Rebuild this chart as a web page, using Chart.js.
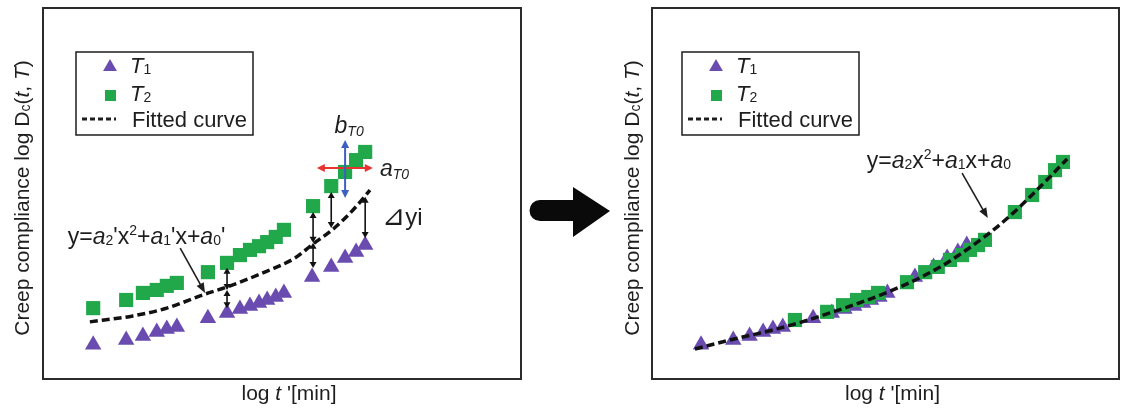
<!DOCTYPE html>
<html>
<head>
<meta charset="utf-8">
<script src="https://cdn.jsdelivr.net/npm/chart.js@4.4.1/dist/chart.umd.min.js"></script>
<style>
  html, body { margin: 0; padding: 0; background: #fff; }
  #wrap { position: relative; width: 1122px; height: 409px; }
  #left { position: absolute; left: 0; top: 0; }
  #right { position: absolute; left: 620px; top: 0; }
</style>
</head>
<body>
<div id="wrap">
  <canvas id="left" width="620" height="409"></canvas>
  <canvas id="right" width="502" height="409"></canvas>
</div>
<script>
// T1 measurements (reference temperature, same in both plots)
const t1X = [1.05, 1.74, 2.09, 2.38, 2.59, 2.80, 3.45, 3.85, 4.12, 4.33, 4.52, 4.69, 4.87, 5.04, 5.63, 6.03, 6.32, 6.55, 6.74];
const t1Y = [0.92, 1.05, 1.16, 1.27, 1.35, 1.40, 1.64, 1.78, 1.89, 1.97, 2.05, 2.13, 2.21, 2.32, 2.75, 3.02, 3.26, 3.42, 3.61];

// T2 measurements before shifting
const t2X = [1.05, 1.74, 2.09, 2.38, 2.59, 2.80, 3.45, 3.85, 4.12, 4.33, 4.52, 4.69, 4.87, 5.04, 5.65, 6.03, 6.32, 6.55, 6.74];
const t2Y = [1.91, 2.13, 2.32, 2.40, 2.51, 2.59, 2.88, 3.13, 3.34, 3.48, 3.58, 3.69, 3.83, 4.02, 4.66, 5.20, 5.58, 5.90, 6.12];

// T2 after shifting by aT0 / bT0
const t2ShiftX = [3.06, 3.75, 4.09, 4.39, 4.63, 4.84, 5.46, 5.85, 6.12, 6.38, 6.64, 6.81, 6.98, 7.13, 7.77, 8.14, 8.42, 8.63, 8.80];
const t2ShiftY = [1.59, 1.81, 1.99, 2.13, 2.21, 2.32, 2.61, 2.88, 3.02, 3.21, 3.34, 3.48, 3.61, 3.75, 4.50, 4.96, 5.31, 5.63, 5.85];

// fitted curve to T1 only
const fitLeftX = [0.98, 1.88, 2.59, 3.39, 3.85, 4.69, 5.27, 5.65, 6.07, 6.49, 6.84];
const fitLeftY = [1.54, 1.70, 1.91, 2.29, 2.48, 2.91, 3.26, 3.64, 4.04, 4.56, 5.09];

// fitted master curve after shifting
const fitRightX = [0.92, 1.67, 2.74, 3.81, 5.16, 6.17, 7.17, 7.73, 8.31, 8.89];
const fitRightY = [0.81, 1.05, 1.37, 1.78, 2.40, 3.02, 3.88, 4.47, 5.18, 5.93];

// residual arrows: x, top y, bottom y
const gapX = [3.85, 3.85, 5.65, 5.65, 6.03, 6.74];
const gapTop = [3.00, 2.40, 4.50, 3.67, 5.04, 4.91];
const gapBottom = [2.40, 1.91, 3.67, 2.99, 4.07, 3.80];

// shift factor arrows
const aT0Arrow = [5.73, 6.90, 5.69];   // x from, x to, y
const bT0Arrow = [6.32, 4.88, 6.44];   // x, y from, y to

const PURPLE = '#6a4cb0';
const GREEN = '#21a84b';
const INK = '#1e1e1e';
const FONT = '"Liberation Sans", Arial, "DejaVu Sans", sans-serif';

function pts(xs, ys) {
    return xs.map((x, i) => ({ x: x, y: ys[i] }));
}

function font(size, italic) {
    return (italic ? 'italic ' : '') + size + 'px ' + FONT;
}

// draws a line of mixed text runs (italic / subscript parts)
function drawRuns(ctx, runs, x, y, align) {
    let w = 0;
    runs.forEach(r => { ctx.font = font(r.s, r.it); w += ctx.measureText(r.t).width; });
    let cx = align === 'center' ? x - w / 2 : x;
    ctx.textAlign = 'left';
    ctx.textBaseline = 'alphabetic';
    runs.forEach(r => {
        ctx.font = font(r.s, r.it);
        ctx.fillText(r.t, cx, y + (r.dy || 0));
        cx += ctx.measureText(r.t).width;
    });
}

function head(ctx, x, y, ang, len, wid) {
    const c = Math.cos(ang), s = Math.sin(ang);
    ctx.beginPath();
    ctx.moveTo(x, y);
    ctx.lineTo(x - len * c + wid * s, y - len * s - wid * c);
    ctx.lineTo(x - len * c - wid * s, y - len * s + wid * c);
    ctx.closePath();
    ctx.fill();
}

function arrow(ctx, x1, y1, x2, y2, color, lw, both, len, wid) {
    const ang = Math.atan2(y2 - y1, x2 - x1);
    ctx.save();
    ctx.strokeStyle = color;
    ctx.fillStyle = color;
    ctx.lineWidth = lw;
    ctx.beginPath();
    ctx.moveTo(x1 + Math.cos(ang) * (both ? len * 0.8 : 0), y1 + Math.sin(ang) * (both ? len * 0.8 : 0));
    ctx.lineTo(x2 - Math.cos(ang) * len * 0.8, y2 - Math.sin(ang) * len * 0.8);
    ctx.stroke();
    head(ctx, x2, y2, ang, len, wid);
    if (both) head(ctx, x1, y1, ang + Math.PI, len, wid);
    ctx.restore();
}

function triangle(ctx, x, y, r) {
    ctx.beginPath();
    ctx.moveTo(x, y - r);
    ctx.lineTo(x + r * 0.866, y + r * 0.5);
    ctx.lineTo(x - r * 0.866, y + r * 0.5);
    ctx.closePath();
    ctx.fill();
}

const sub = 14;
const yTitle = [
    { t: 'Creep compliance log D', s: 21 }, { t: 'c', s: 14, dy: 1 },
    { t: '(', s: 21 }, { t: 't', s: 21, it: true }, { t: ', ', s: 21 },
    { t: 'T', s: 21, it: true }, { t: ')', s: 21 }
];
const xTitle = [{ t: 'log ', s: 21 }, { t: 't', s: 21, it: true }, { t: " '[min]", s: 21 }];

// frame, axis titles and legend box shared by both plots
function panelPlugin(o) {
    return {
        id: 'panel' + o.name,
        afterDraw(chart) {
            const ctx = chart.ctx;
            const a = chart.chartArea;
            const sx = chart.scales.x, sy = chart.scales.y;
            ctx.save();
            ctx.fillStyle = INK;

            // frame
            ctx.strokeStyle = '#2b2b2b';
            ctx.lineWidth = 2;
            ctx.strokeRect(a.left, a.top, a.right - a.left, a.bottom - a.top);

            // axis titles
            drawRuns(ctx, xTitle, (a.left + a.right) / 2 + 7, 400, 'center');
            ctx.save();
            ctx.translate(o.yTitleX, 198);
            ctx.rotate(-Math.PI / 2);
            drawRuns(ctx, yTitle, 0, 0, 'center');
            ctx.restore();

            // legend
            const bx = a.left + o.legendDx, by = 52;
            ctx.lineWidth = 1.5;
            ctx.strokeStyle = INK;
            ctx.strokeRect(bx, by, 177, 83);
            ctx.fillStyle = PURPLE;
            triangle(ctx, bx + 34, by + 15, 8);
            ctx.fillStyle = GREEN;
            ctx.fillRect(bx + 29, by + 38, 11, 11);
            ctx.strokeStyle = INK;
            ctx.lineWidth = 3;
            ctx.setLineDash([5, 3]);
            ctx.beginPath();
            ctx.moveTo(bx + 6, by + 67);
            ctx.lineTo(bx + 40, by + 67);
            ctx.stroke();
            ctx.setLineDash([]);
            ctx.fillStyle = INK;
            drawRuns(ctx, [{ t: 'T', s: 22, it: true }, { t: '1', s: sub, dy: 1 }], bx + 54, by + 21, 'left');
            drawRuns(ctx, [{ t: 'T', s: 22, it: true }, { t: '2', s: sub, dy: 1 }], bx + 54, by + 49, 'left');
            drawRuns(ctx, [{ t: 'Fitted curve', s: 22 }], bx + 56, by + 75, 'left');

            // equation label with pointer
            const p = o.eq;
            drawRuns(ctx, p.runs, sx.getPixelForValue(p.at[0]), sy.getPixelForValue(p.at[1]), 'left');
            arrow(ctx, sx.getPixelForValue(p.ptr[0]), sy.getPixelForValue(p.ptr[1]),
                sx.getPixelForValue(p.ptr[2]), sy.getPixelForValue(p.ptr[3]), INK, 1.6, false, 10, 4);

            if (o.extra) o.extra(ctx, sx, sy);
            ctx.restore();
        }
    };
}

function scatterConfig(t1, t2, fit, padding, plugin) {
    return {
        type: 'scatter',
        data: {
            datasets: [
                {
                    label: 'Fitted curve', data: fit, showLine: true,
                    borderColor: '#111', borderWidth: 3.5, borderDash: [8, 4],
                    pointRadius: 0, cubicInterpolationMode: 'monotone', fill: false
                },
                {
                    label: 'T2', data: t2, pointStyle: 'rect', pointRadius: 10,
                    backgroundColor: GREEN, borderWidth: 0
                },
                {
                    label: 'T1', data: t1, pointStyle: 'triangle', pointRadius: 9.5,
                    backgroundColor: PURPLE, borderWidth: 0
                }
            ]
        },
        options: {
            responsive: false,
            animation: false,
            events: [],
            layout: { padding: padding, autoPadding: false },
            plugins: { legend: { display: false }, tooltip: { enabled: false } },
            scales: {
                x: { type: 'linear', min: 0, max: 10, display: false },
                y: { type: 'linear', min: 0, max: 10, display: false }
            }
        },
        plugins: [plugin]
    };
}

const eqLeft = {
    runs: [
        { t: 'y=', s: 23 }, { t: 'a', s: 23, it: true }, { t: '2', s: sub, dy: 1 }, { t: "'x", s: 23 },
        { t: '2', s: sub, dy: -9 }, { t: '+', s: 23 }, { t: 'a', s: 23, it: true }, { t: '1', s: sub, dy: 1 },
        { t: "'x+", s: 23 }, { t: 'a', s: 23, it: true }, { t: '0', s: sub, dy: 1 }, { t: "'", s: 23 }
    ],
    at: [0.52, 3.64],
    ptr: [2.87, 3.53, 3.39, 2.32]
};

const eqRight = {
    runs: [
        { t: 'y=', s: 23 }, { t: 'a', s: 23, it: true }, { t: '2', s: sub, dy: 1 }, { t: 'x', s: 23 },
        { t: '2', s: sub, dy: -9 }, { t: '+', s: 23 }, { t: 'a', s: 23, it: true }, { t: '1', s: sub, dy: 1 },
        { t: 'x+', s: 23 }, { t: 'a', s: 23, it: true }, { t: '0', s: sub, dy: 1 }
    ],
    at: [4.60, 5.69],
    ptr: [6.64, 5.55, 7.19, 4.34]
};

// residual arrows, shift arrows and the transition arrow for the left plot
function leftExtras(ctx, sx, sy) {
    gapX.forEach((x, i) => {
        arrow(ctx, sx.getPixelForValue(x), sy.getPixelForValue(gapTop[i]),
            sx.getPixelForValue(x), sy.getPixelForValue(gapBottom[i]), '#111', 1.6, true, 6, 3.5);
    });
    arrow(ctx, sx.getPixelForValue(aT0Arrow[0]), sy.getPixelForValue(aT0Arrow[2]),
        sx.getPixelForValue(aT0Arrow[1]), sy.getPixelForValue(aT0Arrow[2]), '#e8322f', 2, true, 8, 4);
    arrow(ctx, sx.getPixelForValue(bT0Arrow[0]), sy.getPixelForValue(bT0Arrow[1]),
        sx.getPixelForValue(bT0Arrow[0]), sy.getPixelForValue(bT0Arrow[2]), '#3c5fc2', 2, true, 8, 4);

    ctx.fillStyle = INK;
    drawRuns(ctx, [{ t: 'b', s: 23, it: true }, { t: 'T0', s: sub, it: true, dy: 3 }],
        sx.getPixelForValue(6.10), sy.getPixelForValue(6.63), 'left');
    drawRuns(ctx, [{ t: 'a', s: 23, it: true }, { t: 'T0', s: sub, it: true, dy: 3 }],
        sx.getPixelForValue(7.05), sy.getPixelForValue(5.47), 'left');
    drawRuns(ctx, [{ t: '⊿', s: 28 }, { t: 'yi', s: 24 }], sx.getPixelForValue(7.09), sy.getPixelForValue(4.15), 'left');

    // transition arrow between the two plots
    ctx.fillStyle = '#0a0a0a';
    ctx.beginPath();
    ctx.moveTo(540, 200);
    ctx.lineTo(573, 200);
    ctx.lineTo(573, 187);
    ctx.lineTo(610, 211);
    ctx.lineTo(573, 237);
    ctx.lineTo(573, 221);
    ctx.lineTo(540, 221);
    ctx.arc(540, 210.5, 10.5, Math.PI / 2, Math.PI * 1.5);
    ctx.closePath();
    ctx.fill();
}

new Chart(document.getElementById('left'), scatterConfig(
    pts(t1X, t1Y), pts(t2X, t2Y), pts(fitLeftX, fitLeftY),
    { left: 43, right: 99, top: 8, bottom: 30 },
    panelPlugin({ name: 'L', yTitleX: 29, legendDx: 33, eq: eqLeft, extra: leftExtras })
));

new Chart(document.getElementById('right'), scatterConfig(
    pts(t1X, t1Y), pts(t2ShiftX, t2ShiftY), pts(fitRightX, fitRightY),
    { left: 32, right: 3, top: 8, bottom: 30 },
    panelPlugin({ name: 'R', yTitleX: 19, legendDx: 30, eq: eqRight })
));
</script>
</body>
</html>
